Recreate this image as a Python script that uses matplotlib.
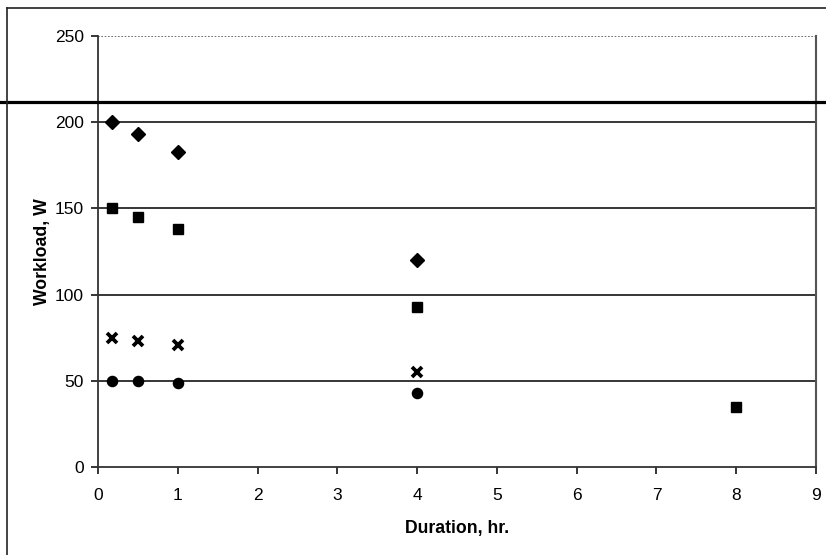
import matplotlib
matplotlib.use("Agg")
import matplotlib.pyplot as plt
from matplotlib.lines import Line2D
from matplotlib.transforms import blended_transform_factory

plt.rcParams['font.family'] = ['Liberation Sans', 'DejaVu Sans']

duration_short = [0.17, 0.5, 1.0, 4.0]
duration_sq = [0.17, 0.5, 1.0, 4.0, 8.0]
diamond_w = [200, 193, 183, 120]
square_w = [150, 145, 138, 93, 35]
cross_w = [75, 73, 71, 55]
circle_w = [50, 50, 49, 43]
limit_line = 212
x_ticks = list(range(0, 10))
y_ticks = [0, 50, 100, 150, 200, 250]

fig = plt.figure(figsize=(8.26, 5.55), dpi=100)
ax = fig.add_axes([98/826, 88/555, (816-98)/826, (467-36)/555])

ax.set_xlim(0, 9)
ax.set_ylim(0, 250)
ax.set_xticks(x_ticks)
ax.set_yticks(y_ticks)

for v in [50, 100, 150, 200]:
    ax.axhline(v, color='black', lw=1.1, zorder=1)
ax.axhline(250, color='#555555', lw=1.2, ls=(0, (1, 1)), zorder=1)

ax.plot(duration_short, diamond_w, 'D', color='black', ms=7.3, zorder=3, clip_on=False)
ax.plot(duration_sq, square_w, 's', color='black', ms=7.3, zorder=3, clip_on=False)
ax.plot(duration_short, cross_w, 'x', color='black', ms=7.3, mew=2.7, zorder=3, clip_on=False)
ax.plot(duration_short, circle_w, 'o', color='black', ms=7.3, zorder=3, clip_on=False)

tr = blended_transform_factory(fig.transFigure, ax.transData)
ax.plot([0, 1], [limit_line, limit_line], color='black', lw=2.3, transform=tr, clip_on=False, zorder=4)

for s in ['left', 'bottom']:
    ax.spines[s].set_color('#333333')
    ax.spines[s].set_linewidth(1.3)
ax.spines['top'].set_visible(False)
ax.spines['right'].set_color('#555555')
ax.spines['right'].set_linewidth(1.5)

ax.tick_params(direction='out', length=5, width=1.1, labelsize=12.5)
ax.tick_params(axis='x', pad=10)
ax.tick_params(axis='y', pad=5)
ax.set_xlabel('Duration, hr.', fontsize=12.7, fontweight='bold', labelpad=12)
ax.set_ylabel('Workload, W', fontsize=12.7, fontweight='bold', labelpad=3)

# figure frame lines
fig.add_artist(Line2D([7/826, 7/826], [0, (555-8)/555], color='#222222', lw=1.2, transform=fig.transFigure))
fig.add_artist(Line2D([7/826, 1], [(555-8)/555, (555-8)/555], color='#222222', lw=1.2, transform=fig.transFigure))

fig.savefig('out.png', dpi=100)
